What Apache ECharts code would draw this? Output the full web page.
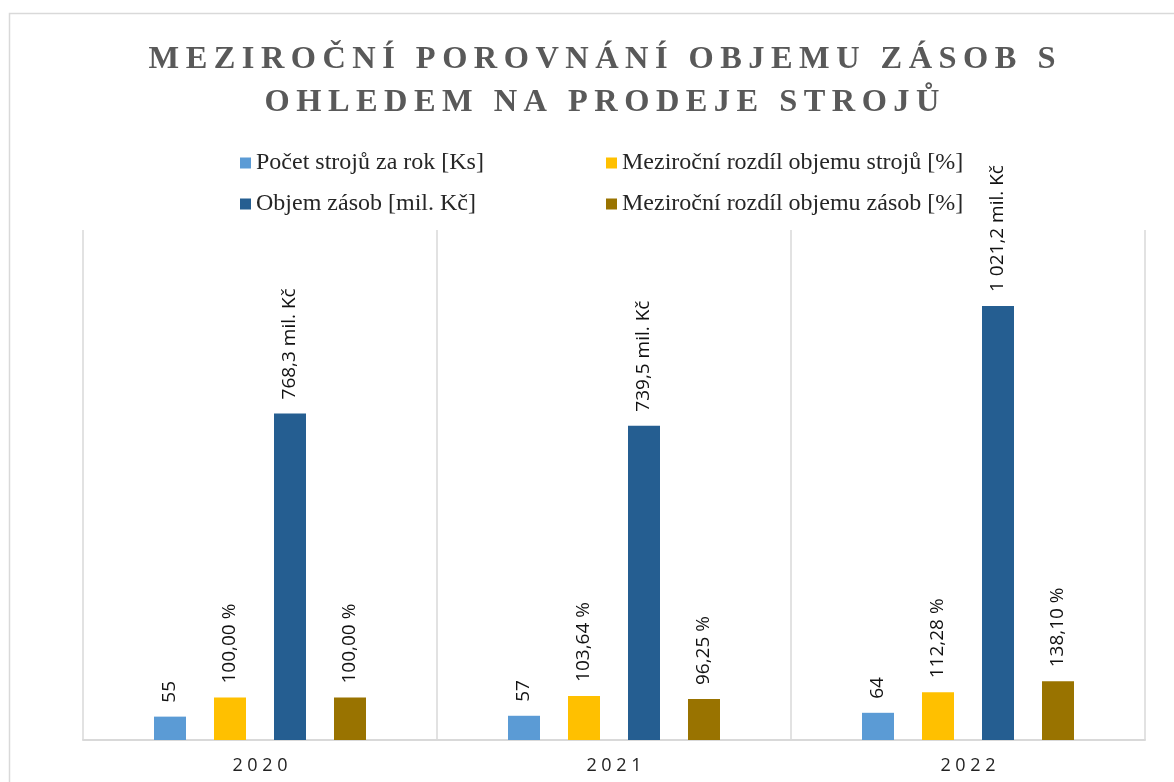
<!DOCTYPE html>
<html>
<head>
<meta charset="utf-8">
<script src="https://cdn.jsdelivr.net/npm/echarts@6/dist/echarts.min.js"></script>
<style>
  html, body { margin: 0; padding: 0; background: #fff; }
  #chart { width: 1174px; height: 782px; }
</style>
</head>
<body>
<div id="chart"></div>
<script>
// data
var years = ['2020', '2021', '2022']
var pocetStroju = [55, 57, 64]
var rozdilStroju = [100.00, 103.64, 112.28]
var objemZasob = [768.3, 739.5, 1021.2]
var rozdilZasob = [100.00, 96.25, 138.10]

var seriesNames = [
  'Počet strojů za rok [Ks]',
  'Meziroční rozdíl objemu strojů [%]',
  'Objem zásob [mil. Kč]',
  'Meziroční rozdíl objemu zásob [%]'
]
var colors = ['#5B9BD5', '#FFC000', '#255E91', '#997300']

function czNum(v, dec) {
  var s = v.toFixed(dec).split('.')
  var intPart = s[0].replace(/\B(?=(\d{3})+(?!\d))/g, ' ')
  return s.length > 1 ? intPart + ',' + s[1] : intPart
}

// spread letters out (Excel title uses wide letter spacing)
function spaced(str) {
  return str.split('\n').map(function(line) {
    return line.split('').join('\u2009')
  }).join('\n')
}

var labelBase = {
  show: true,
  position: 'top',
  rotate: 90,
  align: 'left',
  verticalAlign: 'middle',
  distance: 14,
  fontFamily: 'Open Sans',
  fontSize: 19,
  color: '#111'
}

function makeSeries(idx, data, fmt) {
  return {
    name: seriesNames[idx],
    type: 'bar',
    data: data,
    barWidth: 32,
    barGap: '87.5%',
    itemStyle: { color: colors[idx] },
    label: Object.assign({}, labelBase, { formatter: function(p) { return fmt(p.value) } })
  }
}

function legendAt(name, left, top) {
  return {
    data: [name],
    left: left,
    top: top,
    itemWidth: 11,
    itemHeight: 11,
    itemGap: 4,
    icon: 'rect',
    textStyle: { fontFamily: 'Liberation Serif', fontSize: 24, color: '#262626' }
  }
}

var chart = echarts.init(document.getElementById('chart'))
chart.setOption({
  animation: false,
  title: {
    text: spaced('MEZIROČNÍ POROVNÁNÍ OBJEMU ZÁSOB S\nOHLEDEM NA PRODEJE STROJŮ'),
    left: 597,
    top: 33,
    textAlign: 'center',
    textStyle: {
      fontFamily: 'Liberation Serif',
      fontWeight: 'bold',
      fontSize: 32.4,
      lineHeight: 43,
      color: '#595959'
    }
  },
  legend: [
    legendAt(seriesNames[0], 235, 146),
    legendAt(seriesNames[1], 601, 146),
    legendAt(seriesNames[2], 235, 187),
    legendAt(seriesNames[3], 601, 187)
  ],
  graphic: [{
    type: 'rect',
    left: 7,
    top: 11,
    shape: { width: 1200, height: 800 },
    style: { fill: 'none', stroke: '#d9d9d9', lineWidth: 1.5 },
    silent: true
  }],
  grid: { left: 83, right: 29, top: 230, bottom: 42 },
  xAxis: {
    type: 'category',
    data: years,
    axisLine: { lineStyle: { color: '#d9d9d9', width: 2 } },
    axisTick: { show: false },
    splitLine: { show: true, lineStyle: { color: '#d9d9d9', width: 1.5 } },
    axisLabel: {
      margin: 17,
      fontFamily: 'Open Sans',
      fontSize: 18,
      color: '#222',
      formatter: function(v) { return v.split('').join(' ') }
    }
  },
  yAxis: {
    type: 'value',
    min: 0,
    max: 1200,
    show: false,
    splitLine: { show: false }
  },
  series: [
    makeSeries(0, pocetStroju, function(v) { return czNum(v, 0) }),
    makeSeries(1, rozdilStroju, function(v) { return czNum(v, 2) + ' %' }),
    makeSeries(2, objemZasob, function(v) { return czNum(v, 1) + ' mil. Kč' }),
    makeSeries(3, rozdilZasob, function(v) { return czNum(v, 2) + ' %' })
  ]
})
</script>
</body>
</html>
